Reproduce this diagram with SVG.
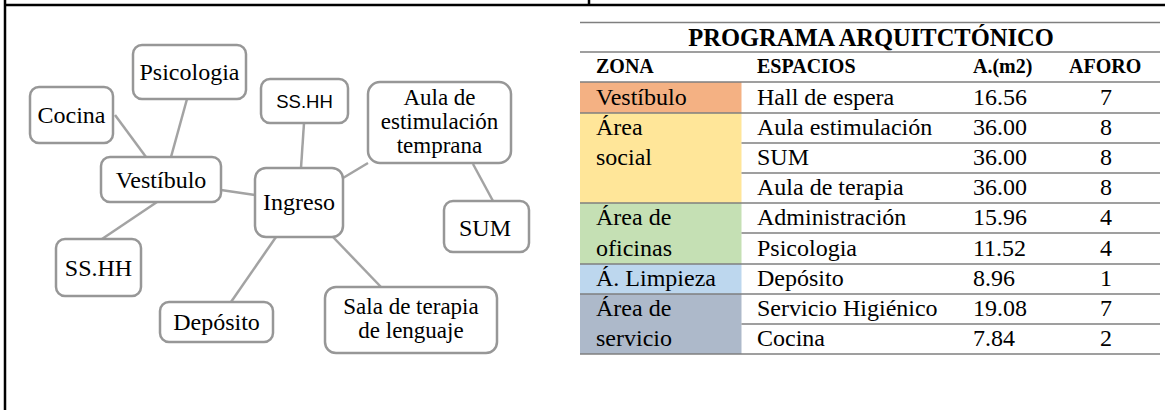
<svg xmlns="http://www.w3.org/2000/svg" width="1165" height="410" viewBox="0 0 1165 410">
<style>
.frame{stroke:#000;stroke-width:2.5;fill:none}
.box{fill:#fff;stroke:#979797;stroke-width:2.5}
.con{stroke:#a3a3a3;stroke-width:2.5;fill:none}
.nt{font-family:"Liberation Serif","Times New Roman",serif;font-size:24px;fill:#000;text-anchor:middle}
.nm{font-family:"Liberation Serif","Times New Roman",serif;font-size:23px;fill:#000;text-anchor:middle}
.ns{font-family:"Liberation Sans",Arial,sans-serif;font-size:18.5px;fill:#000;text-anchor:middle}
.rule{stroke:#7f7f7f;stroke-width:1.6}
.tt{font-family:"Liberation Serif","Times New Roman",serif;font-size:24px;fill:#000}
.th{font-family:"Liberation Serif","Times New Roman",serif;font-size:20px;font-weight:bold;fill:#000}
.ttl{font-family:"Liberation Serif","Times New Roman",serif;font-size:24.5px;font-weight:bold;fill:#000;text-anchor:middle}
.c{text-anchor:middle}
</style>
<rect width="1165" height="410" fill="#fff"/>
<g id="frame">
<line class="frame" x1="5" y1="0" x2="5" y2="410"/>
<line class="frame" x1="4" y1="5" x2="1165" y2="5"/>
<line class="frame" x1="589" y1="0" x2="589" y2="5"/>
</g>
<g id="connectors">
<line class="con" x1="115" y1="115" x2="146" y2="157"/>
<line class="con" x1="187" y1="99" x2="171" y2="157"/>
<line class="con" x1="304" y1="123" x2="301" y2="168"/>
<line class="con" x1="368" y1="163" x2="343" y2="178"/>
<line class="con" x1="221" y1="190" x2="255" y2="195"/>
<line class="con" x1="473" y1="164" x2="493" y2="201"/>
<line class="con" x1="157" y1="202" x2="102" y2="239"/>
<line class="con" x1="276" y1="237" x2="231" y2="302"/>
<line class="con" x1="333" y1="237" x2="381" y2="287"/>
</g>
<g id="n-psicologia"><rect class="box" x="133" y="45" width="113" height="54" rx="9"/><text class="nt" x="189.5" y="80">Psicologia</text></g>
<g id="n-cocina"><rect class="box" x="30" y="87" width="83" height="56" rx="9"/><text class="nt" x="71.5" y="123">Cocina</text></g>
<g id="n-sshh1"><rect class="box" x="261" y="79" width="87" height="44" rx="9"/><text class="ns" x="304.5" y="108">SS.HH</text></g>
<g id="n-aula"><rect class="box" x="368" y="82" width="143" height="81" rx="12"/><text class="nm" x="439.5" y="105">Aula de</text><text class="nm" x="439.5" y="129">estimulación</text><text class="nm" x="439.5" y="153">temprana</text></g>
<g id="n-vestibulo"><rect class="box" x="101" y="157" width="120" height="45" rx="9"/><text class="nt" x="161" y="188">Vestíbulo</text></g>
<g id="n-ingreso"><rect class="box" x="255" y="168" width="88" height="69" rx="11"/><text class="nt" x="299" y="210">Ingreso</text></g>
<g id="n-sum"><rect class="box" x="444" y="201" width="85" height="51" rx="9"/><text class="nt" x="485" y="236">SUM</text></g>
<g id="n-sshh2"><rect class="box" x="56" y="239" width="85" height="57" rx="9"/><text class="nt" x="98.5" y="276">SS.HH</text></g>
<g id="n-deposito"><rect class="box" x="160" y="302" width="113" height="40" rx="9"/><text class="nt" x="216.5" y="330">Depósito</text></g>
<g id="n-sala"><rect class="box" x="325" y="287" width="172" height="66" rx="11"/><text class="nm" x="411" y="314">Sala de terapia</text><text class="nm" x="411" y="338">de lenguaje</text></g>
<g id="table">
<rect x="580" y="82" width="161.5" height="31" fill="#F4B183"/>
<rect x="580" y="113" width="161.5" height="90" fill="#FFE699"/>
<rect x="580" y="203" width="161.5" height="61" fill="#C5E0B4"/>
<rect x="580" y="264" width="161.5" height="30" fill="#BDD7EE"/>
<rect x="580" y="294" width="161.5" height="60" fill="#ADB9CA"/>
<line class="rule" x1="580" y1="22.5" x2="1160" y2="22.5"/>
<line class="rule" x1="580" y1="52" x2="1160" y2="52"/>
<line class="rule" x1="580" y1="82" x2="1160" y2="82"/>
<line class="rule" x1="580" y1="113" x2="1160" y2="113"/>
<line class="rule" x1="741.5" y1="143" x2="1160" y2="143"/>
<line class="rule" x1="741.5" y1="173" x2="1160" y2="173"/>
<line class="rule" x1="580" y1="203" x2="1160" y2="203"/>
<line class="rule" x1="741.5" y1="233" x2="1160" y2="233"/>
<line class="rule" x1="580" y1="264" x2="1160" y2="264"/>
<line class="rule" x1="580" y1="294" x2="1160" y2="294"/>
<line class="rule" x1="741.5" y1="324" x2="1160" y2="324"/>
<line class="rule" x1="580" y1="354" x2="1160" y2="354"/>
<text class="ttl" x="871" y="46">PROGRAMA ARQUITCTÓNICO</text>
<text class="th" x="596" y="73">ZONA</text>
<text class="th" x="757" y="73">ESPACIOS</text>
<text class="th" x="973" y="73">A.(m2)</text>
<text class="th" x="1069" y="73">AFORO</text>
<text class="tt" x="596" y="105">Vestíbulo</text>
<text class="tt" x="596" y="135">Área</text>
<text class="tt" x="596" y="165">social</text>
<text class="tt" x="596" y="225">Área de</text>
<text class="tt" x="596" y="256">oficinas</text>
<text class="tt" x="596" y="286">Á. Limpieza</text>
<text class="tt" x="596" y="316">Área de</text>
<text class="tt" x="596" y="346">servicio</text>
<text class="tt" x="757" y="105">Hall de espera</text>
<text class="tt" x="757" y="135">Aula estimulación</text>
<text class="tt" x="757" y="165">SUM</text>
<text class="tt" x="757" y="195">Aula de terapia</text>
<text class="tt" x="757" y="225">Administración</text>
<text class="tt" x="757" y="256">Psicologia</text>
<text class="tt" x="757" y="286">Depósito</text>
<text class="tt" x="757" y="316">Servicio Higiénico</text>
<text class="tt" x="757" y="346">Cocina</text>
<text class="tt" x="973" y="105">16.56</text>
<text class="tt" x="973" y="135">36.00</text>
<text class="tt" x="973" y="165">36.00</text>
<text class="tt" x="973" y="195">36.00</text>
<text class="tt" x="973" y="225">15.96</text>
<text class="tt" x="973" y="256">11.52</text>
<text class="tt" x="973" y="286">8.96</text>
<text class="tt" x="973" y="316">19.08</text>
<text class="tt" x="973" y="346">7.84</text>
<text class="tt c" x="1106" y="105">7</text>
<text class="tt c" x="1106" y="135">8</text>
<text class="tt c" x="1106" y="165">8</text>
<text class="tt c" x="1106" y="195">8</text>
<text class="tt c" x="1106" y="225">4</text>
<text class="tt c" x="1106" y="256">4</text>
<text class="tt c" x="1106" y="286">1</text>
<text class="tt c" x="1106" y="316">7</text>
<text class="tt c" x="1106" y="346">2</text>
</g>
</svg>
